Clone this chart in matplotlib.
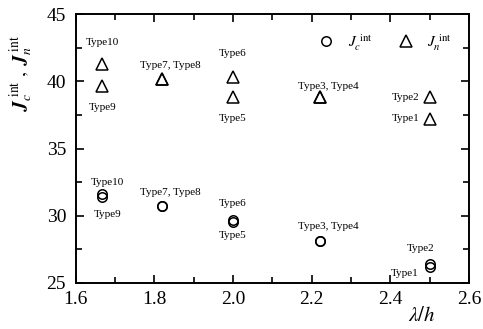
import matplotlib
matplotlib.use("Agg")
import matplotlib.pyplot as plt
from matplotlib.ticker import MultipleLocator

plt.rcParams['font.family'] = ['Liberation Serif', 'DejaVu Serif']
plt.rcParams['mathtext.fontset'] = 'stix'

# wavelength ratio and interface values per type
types = ["Type1", "Type2", "Type3", "Type4", "Type5", "Type6",
         "Type7", "Type8", "Type9", "Type10"]
lam_h = [2.5, 2.5, 2.22, 2.22, 2.0, 2.0, 1.82, 1.82, 1.667, 1.667]
jc_int = [26.15, 26.4, 28.15, 28.15, 29.5, 29.7, 30.75, 30.75, 31.4, 31.65]
jn_int = [37.2, 38.8, 38.8, 38.8, 38.8, 40.35, 40.15, 40.15, 39.65, 41.3]

# label text, anchor index, offset in pixels, alignment
jn_labels = [
    ("Type10", 9, (0, 21), 'center'),
    ("Type9", 8, (0, -21), 'center'),
    ("Type7, Type8", 6, (8, 14), 'center'),
    ("Type6", 5, (0, 23), 'center'),
    ("Type5", 4, (0, -21), 'center'),
    ("Type3, Type4", 2, (9, 11), 'center'),
    ("Type2", 1, (-10, 0), 'right'),
    ("Type1", 0, (-10, 0), 'right'),
]
jc_labels = [
    ("Type10", 9, (5, 11), 'center'),
    ("Type9", 8, (5, -18), 'center'),
    ("Type7, Type8", 6, (8, 13), 'center'),
    ("Type6", 5, (0, 16), 'center'),
    ("Type5", 4, (0, -13), 'center'),
    ("Type3, Type4", 2, (9, 14), 'center'),
    ("Type2", 1, (-9, 16), 'center'),
    ("Type1", 0, (-11, -6), 'right'),
]

fig = plt.figure(figsize=(4.83, 3.29), dpi=100)
ax = fig.add_axes([0.157, 0.140, 0.814, 0.817])

ax.plot(lam_h, jc_int, ls='none', marker='o', ms=6.8, mfc='none',
        mec='black', mew=1.1, label=r"$J_c^{\ \rm int}$")
ax.plot(lam_h, jn_int, ls='none', marker='^', ms=8.6, mfc='none',
        mec='black', mew=1.1, label=r"$J_n^{\ \rm int}$")

for vals, labels in ((jn_int, jn_labels), (jc_int, jc_labels)):
    for text, i, off, ha in labels:
        ax.annotate(text, (lam_h[i], vals[i]), xytext=off,
                    textcoords='offset pixels', ha=ha, va='center',
                    fontsize=8)

ax.set_xlim(1.6, 2.6)
ax.set_ylim(25, 45)
ax.xaxis.set_major_locator(MultipleLocator(0.2))
ax.xaxis.set_minor_locator(MultipleLocator(0.1))
ax.yaxis.set_major_locator(MultipleLocator(5))
ax.yaxis.set_minor_locator(MultipleLocator(2.5))
ax.xaxis.set_major_formatter(plt.FormatStrFormatter('%.1f'))
ax.tick_params(which='both', direction='in', top=True, right=True,
               width=1.2, labelsize=14)
ax.tick_params(which='major', length=6)
ax.tick_params(which='minor', length=4)
ax.tick_params(axis='y', pad=7)
ax.tick_params(axis='x', pad=6)
for sp in ax.spines.values():
    sp.set_linewidth(1.4)

ax.set_xlabel(r"$\lambda/h$", fontsize=15)
ax.xaxis.set_label_coords(0.88, -0.09)
ax.set_ylabel(r"$\boldsymbol{J}_c^{\ \rm int}\ ,\ \boldsymbol{J}_n^{\ \rm int}$",
              fontsize=14)
ax.yaxis.set_label_coords(-0.105, 0.78)

ax.legend(loc='upper right', ncol=2, frameon=False, fontsize=11,
          handletextpad=0.4, columnspacing=1.2,
          bbox_to_anchor=(0.99, 0.985))

fig.savefig("out.png", dpi=100)
